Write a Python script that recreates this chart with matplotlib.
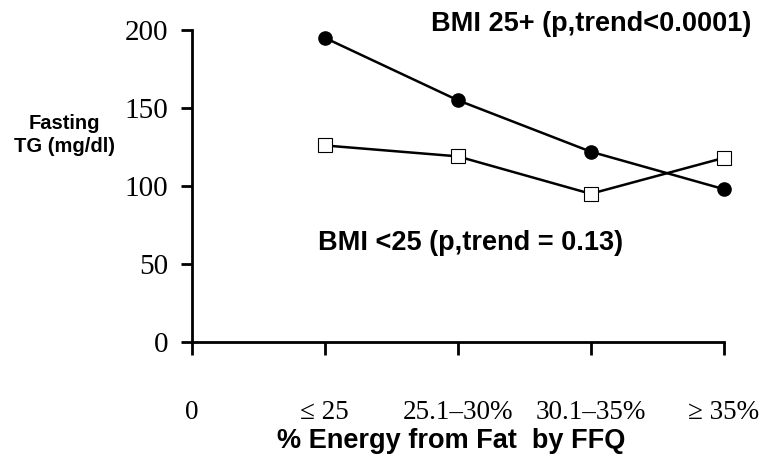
import matplotlib.pyplot as plt

categories = ["0", "\u2264 25", "25.1\u201330%", "30.1\u201335%", "\u2265 35%"]
cat_pos = [1, 2, 3, 4]
bmi_high = [195, 155, 122, 98]
bmi_low = [126, 119, 95, 118]
y_ticks = [0, 50, 100, 150, 200]

fig = plt.figure(figsize=(7.61, 4.58), dpi=100)
ax = fig.add_axes([0.252, 0.2533, 0.699, 0.6812])

ax.plot(cat_pos, bmi_high, color="black", lw=1.8, marker="o", ms=9.5,
        mfc="black", mec="black", zorder=3, clip_on=False)
ax.plot(cat_pos, bmi_low, color="black", lw=1.8, marker="s", ms=9.5,
        mfc="white", mec="black", mew=0.8, zorder=3, clip_on=False)

ax.set_xlim(0, 4)
ax.set_ylim(0, 200)
ax.set_xticks(range(len(categories)))
ax.set_xticklabels(categories, family="Liberation Serif", fontsize=19.5)
ax.set_yticks(y_ticks)
ax.set_yticklabels([str(v) for v in y_ticks], family="Liberation Serif", fontsize=21)

for s in ["top", "right"]:
    ax.spines[s].set_visible(False)
for s in ["left", "bottom"]:
    ax.spines[s].set_linewidth(2)
ax.tick_params(axis="x", direction="out", length=9, width=2, pad=33)
ax.tick_params(axis="y", direction="out", length=8, width=2, pad=9)

bold = dict(family="Liberation Sans", fontweight="bold", color="black")
fig.text(0.085, 0.705, "Fasting\nTG (mg/dl)", ha="center", va="center",
         fontsize=14.5, linespacing=1.3, **bold)
fig.text(0.593, 0.037, "% Energy from Fat  by FFQ", ha="center", va="center",
         fontsize=19.5, **bold)
ax.text(4.21, 204, "BMI 25+ (p,trend<0.0001)", ha="right", va="center",
        fontsize=19.5, clip_on=False, **bold)
ax.text(0.95, 63.5, "BMI <25 (p,trend = 0.13)", ha="left", va="center",
        fontsize=19.5, **bold)

fig.savefig("out.png", dpi=100)
